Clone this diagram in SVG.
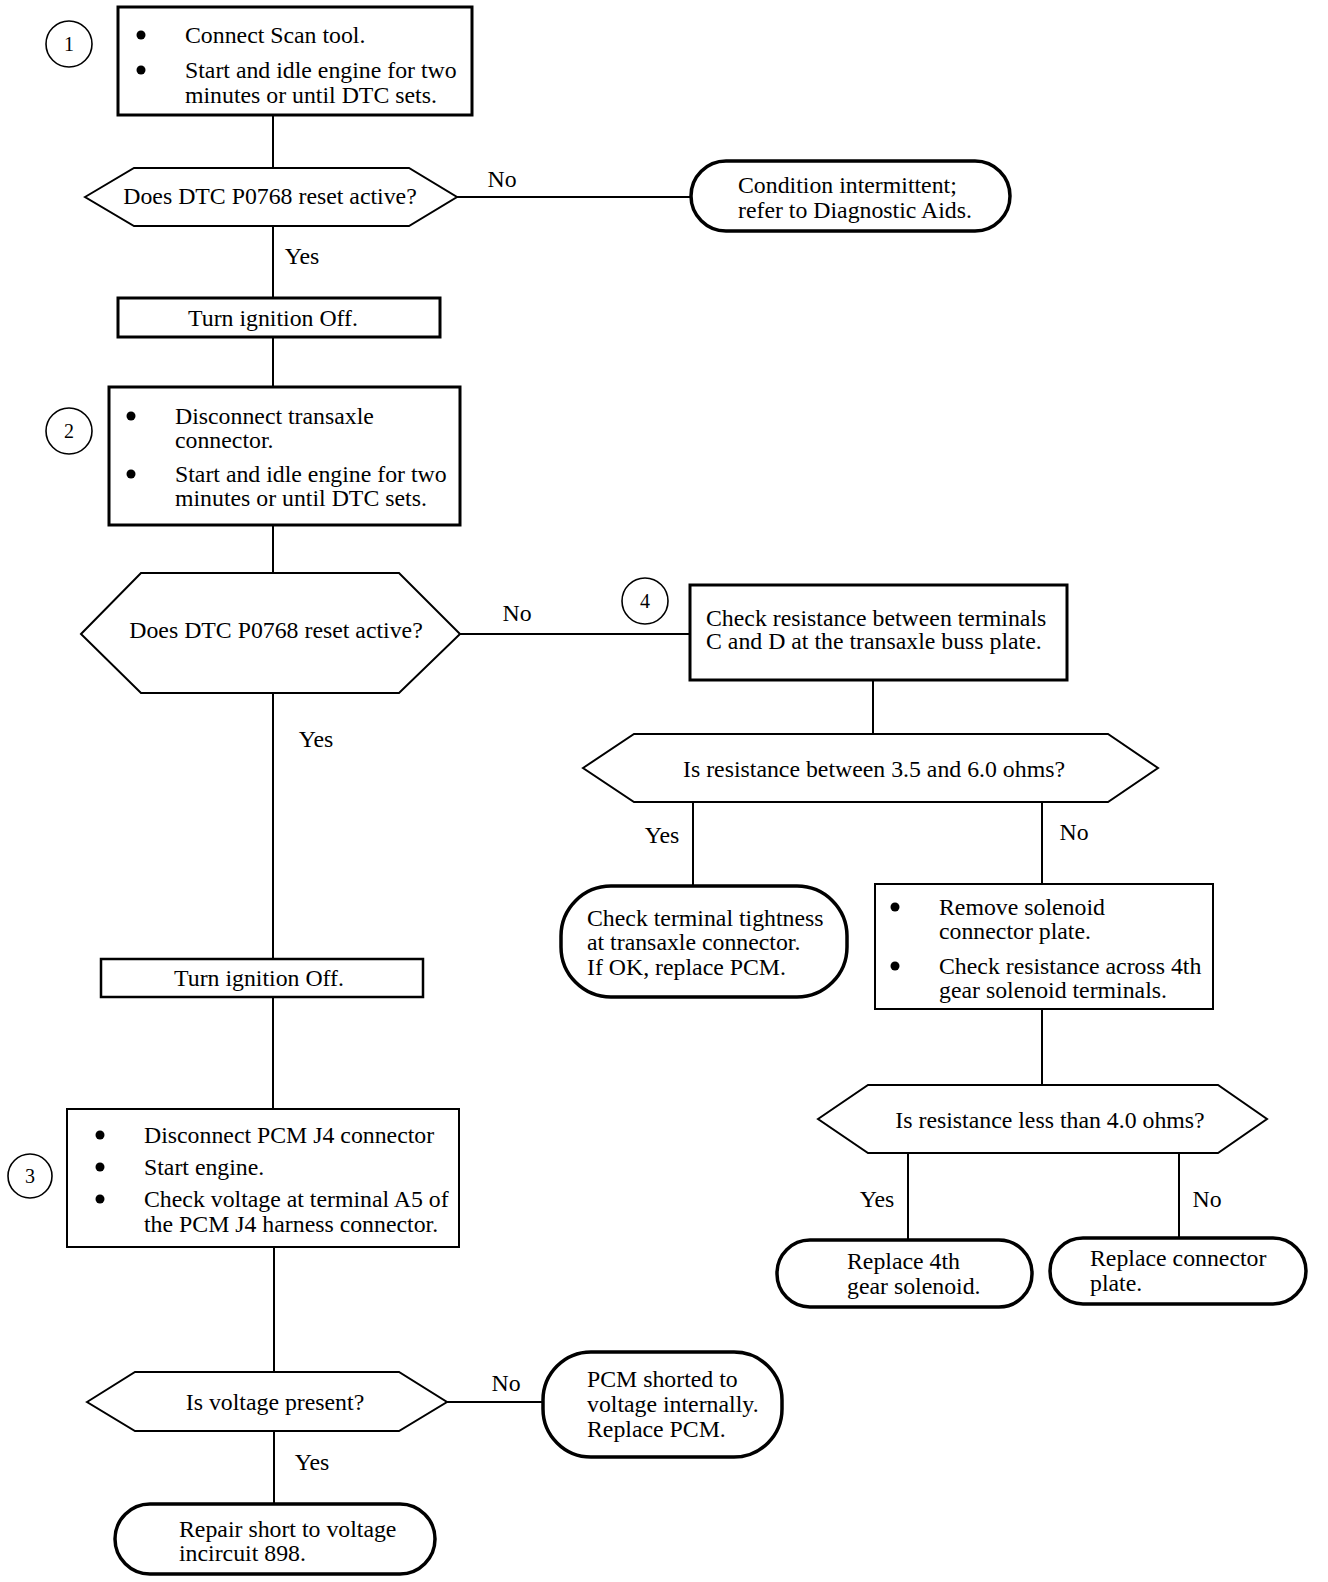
<svg xmlns="http://www.w3.org/2000/svg" width="1328" height="1582" viewBox="0 0 1328 1582">
<style>
text{font-family:"Liberation Serif","Times New Roman",serif;font-size:23.8px;fill:#000}
.c{text-anchor:middle}
.box{fill:#fff;stroke:#000;stroke-width:3}
.hex{fill:#fff;stroke:#000;stroke-width:2}
.term{fill:#fff;stroke:#000;stroke-width:3.5}
.num{fill:#fff;stroke:#000;stroke-width:1.6}
.numt{font-size:20px;text-anchor:middle}
.ln{stroke:#000;stroke-width:2;fill:none}
</style>
<rect width="1328" height="1582" fill="#fff"/>
<g id="connectors">
<path class="ln" d="M273 115V168M273 226V298M457 197H691M273 337V387M273 525V573M460 634H690M873 680V734M693 802V886M1042 802V884M1042 1009V1085M908 1153V1240M1179 1153V1238M273 693V959M273 997V1109M274 1247V1372M447 1402H545M274 1431V1504"/>
<text class="c" x="502" y="187">No</text>
<text class="c" x="302" y="264">Yes</text>
<text class="c" x="517" y="621">No</text>
<text class="c" x="662" y="843">Yes</text>
<text class="c" x="1074" y="840">No</text>
<text class="c" x="877" y="1207">Yes</text>
<text class="c" x="1207" y="1207">No</text>
<text class="c" x="316" y="747">Yes</text>
<text class="c" x="506" y="1391">No</text>
<text class="c" x="312" y="1470">Yes</text>
</g>
<g id="n1"><circle class="num" cx="69" cy="44" r="23"/><text class="numt" x="69" y="51">1</text></g>
<g id="box1"><rect class="box" x="118" y="7" width="354" height="108"/>
<circle cx="141" cy="35" r="4.5"/><circle cx="141" cy="70" r="4.5"/>
<text x="185" y="43">Connect Scan tool.</text>
<text x="185" y="78">Start and idle engine for two</text>
<text x="185" y="103">minutes or until DTC sets.</text></g>
<g id="dec1"><polygon class="hex" points="85,197 134,168 409,168 457,197 409,226 134,226"/>
<text class="c" x="270" y="204">Does DTC P0768 reset active?</text></g>
<g id="term1"><rect class="term" x="691" y="161" width="319" height="70" rx="35"/>
<text x="738" y="193">Condition intermittent;</text>
<text x="738" y="218">refer to Diagnostic Aids.</text></g>
<g id="off1"><rect class="box" x="118" y="298" width="322" height="39"/>
<text class="c" x="273" y="326">Turn ignition Off.</text></g>
<g id="n2"><circle class="num" cx="69" cy="431" r="23"/><text class="numt" x="69" y="438">2</text></g>
<g id="box2"><rect class="box" x="109" y="387" width="351" height="138"/>
<circle cx="131" cy="416" r="4.5"/><circle cx="131" cy="474" r="4.5"/>
<text x="175" y="424">Disconnect transaxle</text>
<text x="175" y="448">connector.</text>
<text x="175" y="482">Start and idle engine for two</text>
<text x="175" y="506">minutes or until DTC sets.</text></g>
<g id="dec2"><polygon class="hex" points="81,634 141,573 399,573 460,634 399,693 141,693"/>
<text class="c" x="276" y="638">Does DTC P0768 reset active?</text></g>
<g id="n4"><circle class="num" cx="645" cy="601" r="23"/><text class="numt" x="645" y="608">4</text></g>
<g id="box4"><rect class="box" x="690" y="585" width="377" height="95"/>
<text x="706" y="626">Check resistance between terminals</text>
<text x="706" y="649">C and D at the transaxle buss plate.</text></g>
<g id="dec3"><polygon class="hex" points="583,768 634,734 1108,734 1158,768 1108,802 634,802"/>
<text class="c" x="874" y="777">Is resistance between 3.5 and 6.0 ohms?</text></g>
<g id="term2"><rect class="term" x="561" y="886" width="286" height="111" rx="50"/>
<text x="587" y="926">Check terminal tightness</text>
<text x="587" y="950">at transaxle connector.</text>
<text x="587" y="975">If OK, replace PCM.</text></g>
<g id="box5"><rect class="box" x="875" y="884" width="338" height="125" style="stroke-width:2"/>
<circle cx="895" cy="907" r="4.5"/><circle cx="895" cy="966" r="4.5"/>
<text x="939" y="915">Remove solenoid</text>
<text x="939" y="939">connector plate.</text>
<text x="939" y="974">Check resistance across 4th</text>
<text x="939" y="998">gear solenoid terminals.</text></g>
<g id="dec4"><polygon class="hex" points="818,1119 868,1085 1218,1085 1267,1119 1218,1153 868,1153"/>
<text class="c" x="1050" y="1128">Is resistance less than 4.0 ohms?</text></g>
<g id="term3"><rect class="term" x="777" y="1240" width="255" height="67" rx="33"/>
<text x="847" y="1269">Replace 4th</text>
<text x="847" y="1294">gear solenoid.</text></g>
<g id="term4"><rect class="term" x="1050" y="1238" width="256" height="66" rx="33"/>
<text x="1090" y="1266">Replace connector</text>
<text x="1090" y="1291">plate.</text></g>
<g id="off2"><rect class="box" x="101" y="959" width="322" height="38" style="stroke-width:2.5"/>
<text class="c" x="259" y="986">Turn ignition Off.</text></g>
<g id="n3"><circle class="num" cx="30" cy="1176" r="22"/><text class="numt" x="30" y="1183">3</text></g>
<g id="box3"><rect class="box" x="67" y="1109" width="392" height="138" style="stroke-width:2"/>
<circle cx="100" cy="1135" r="4.5"/><circle cx="100" cy="1167" r="4.5"/><circle cx="100" cy="1199" r="4.5"/>
<text x="144" y="1143">Disconnect PCM J4 connector</text>
<text x="144" y="1175">Start engine.</text>
<text x="144" y="1207">Check voltage at terminal A5 of</text>
<text x="144" y="1232">the PCM J4 harness connector.</text></g>
<g id="dec5"><polygon class="hex" points="87,1402 135,1372 399,1372 447,1402 399,1431 135,1431"/>
<text class="c" x="275" y="1410">Is voltage present?</text></g>
<g id="term5"><rect class="term" x="543" y="1352" width="239" height="105" rx="48"/>
<text x="587" y="1387">PCM shorted to</text>
<text x="587" y="1412">voltage internally.</text>
<text x="587" y="1437">Replace PCM.</text></g>
<g id="term6"><rect class="term" x="115" y="1504" width="320" height="70" rx="35"/>
<text x="179" y="1537">Repair short to voltage</text>
<text x="179" y="1561">incircuit 898.</text></g>
</svg>
